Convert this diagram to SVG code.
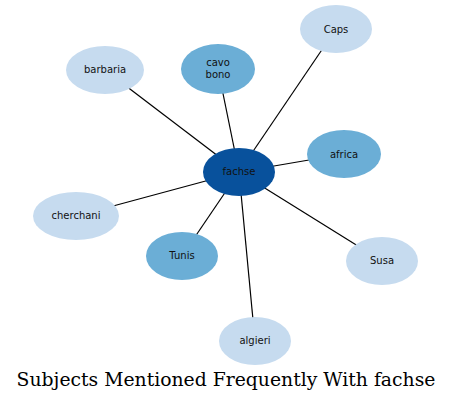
<svg xmlns="http://www.w3.org/2000/svg" width="452" height="401" viewBox="0 0 452 401">
<style>
.e{stroke:#000;stroke-width:1.2;fill:none}
.l{fill:#c6dbef}
.m{fill:#6baed6}
.d{fill:#08519c}
text{font-family:"DejaVu Sans",sans-serif;font-size:10px;text-anchor:middle;fill:#111}
.t{font-family:"DejaVu Serif",serif;font-size:18.8px;fill:#000}
</style>
<rect width="452" height="401" fill="#fff"/>
<g id="edges">
<line class="e" x1="239" y1="172" x2="218" y2="69"/>
<line class="e" x1="239" y1="172" x2="336" y2="29"/>
<line class="e" x1="239" y1="172" x2="105" y2="70"/>
<line class="e" x1="239" y1="172" x2="344" y2="154"/>
<line class="e" x1="239" y1="172" x2="76" y2="216"/>
<line class="e" x1="239" y1="172" x2="182" y2="256"/>
<line class="e" x1="239" y1="172" x2="382" y2="261"/>
<line class="e" x1="239" y1="172" x2="255" y2="341"/>
</g>
<g id="cavo_bono"><ellipse class="m" cx="218" cy="69" rx="37" ry="25"/><text x="218" y="66">cavo</text><text x="218" y="78">bono</text></g>
<g id="Caps"><ellipse class="l" cx="336" cy="29" rx="36" ry="24"/><text x="336" y="33">Caps</text></g>
<g id="barbaria"><ellipse class="l" cx="105" cy="70" rx="39" ry="24"/><text x="105" y="73">barbaria</text></g>
<g id="africa"><ellipse class="m" cx="344" cy="154" rx="37" ry="24"/><text x="344" y="158">africa</text></g>
<g id="cherchani"><ellipse class="l" cx="76" cy="216" rx="43" ry="24"/><text x="76" y="219">cherchani</text></g>
<g id="Tunis"><ellipse class="m" cx="182" cy="256" rx="36" ry="24"/><text x="182" y="259">Tunis</text></g>
<g id="Susa"><ellipse class="l" cx="382" cy="261" rx="36" ry="24"/><text x="382" y="264">Susa</text></g>
<g id="algieri"><ellipse class="l" cx="255" cy="341" rx="36" ry="24"/><text x="255" y="344">algieri</text></g>
<g id="fachse"><ellipse class="d" cx="239" cy="172" rx="36" ry="24"/><text x="239" y="175">fachse</text></g>
<text class="t" x="226" y="386">Subjects Mentioned Frequently With fachse</text>
</svg>
